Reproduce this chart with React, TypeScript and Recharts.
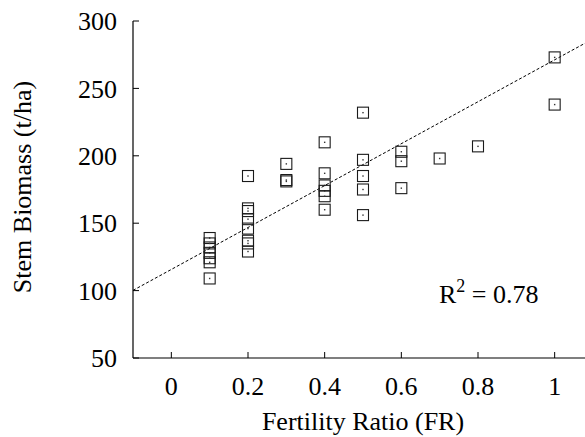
import React from 'react';
import { ScatterChart, Scatter, XAxis, YAxis } from 'recharts';

// Fertility ratio (x) values and stem biomass (t/ha) observations
const fr01 = [139, 135, 132, 128, 124, 121, 109];
const fr02 = [185, 161, 159, 153, 146, 137, 135, 129];
const fr03 = [194, 182, 181];
const fr04 = [210, 187, 178, 174, 170, 160];
const fr05 = [232, 197, 185, 175, 156];
const fr06 = [203, 196, 176];
const fr07 = [198];
const fr08 = [207];
const fr10 = [273, 238];

const groups: [number, number[]][] = [
  [0.1, fr01], [0.2, fr02], [0.3, fr03], [0.4, fr04], [0.5, fr05],
  [0.6, fr06], [0.7, fr07], [0.8, fr08], [1.0, fr10],
];

// linear fit y = a + b x
const fitIntercept = 115.7;
const fitSlope = 155.5;
const xDomain: [number, number] = [-0.1, 1.1];
const yDomain: [number, number] = [50, 300];
const xTicks = [0, 0.2, 0.4, 0.6, 0.8, 1];
const yTicks = [50, 100, 150, 200, 250, 300];
const r2Text = '0.78';

const points = groups.flatMap(([x, vals]) => vals.map((y) => ({ x, y })));
const fitLine = xDomain.map((x) => ({ x, y: fitIntercept + fitSlope * x }));

const FONT = '"Liberation Serif", "Times New Roman", serif';
const FS = 26;

const Square = (props: any) => {
  const { cx, cy } = props;
  if (cx == null || cy == null) return <g />;
  const s = 11;
  return (
    <g>
      <rect x={cx - s / 2} y={cy - s / 2} width={s} height={s} fill="none" stroke="#1a1a1a" strokeWidth={1.1} />
      <rect x={cx - 0.7} y={cy - 0.7} width={1.4} height={1.4} fill="#333" />
    </g>
  );
};

const YTick = (props: any) => {
  const { x, y, payload } = props;
  const ax = x + 16;
  return (
    <g>
      <line x1={ax} x2={ax + 6} y1={y} y2={y} stroke="#000" strokeWidth={1} />
      <text x={x} y={y} dy="0.35em" textAnchor="end" fontFamily={FONT} fontSize={FS} fill="#000">
        {payload.value}
      </text>
    </g>
  );
};

const XTick = (props: any) => {
  const { x, y, payload } = props;
  return (
    <g>
      <line x1={x} x2={x} y1={y} y2={y - 6} stroke="#000" strokeWidth={1} />
      <text x={x} y={y + 37} textAnchor="middle" fontFamily={FONT} fontSize={FS} fill="#000">
        {payload.value}
      </text>
    </g>
  );
};

const TopTick = (props: any) => {
  const { x, y } = props;
  return <line x1={x} x2={x} y1={y} y2={y + 6} stroke="#000" strokeWidth={1} />;
};

export default function App() {
  return (
    <div style={{ position: 'absolute', left: 0, top: 0, width: 585, height: 437, overflow: 'hidden', background: '#fff' }}>
      <ScatterChart width={600} height={437} margin={{ top: 21, right: 7, bottom: 0, left: 0 }}>
        <XAxis
          type="number"
          dataKey="x"
          domain={xDomain}
          ticks={xTicks}
          allowDataOverflow
          height={79}
          tickSize={0}
          tickMargin={0}
          tick={<XTick />}
          axisLine={{ stroke: '#000', strokeWidth: 1.2 }}
          tickLine={false}
          label={{ value: 'Fertility Ratio (FR)', position: 'insideBottom', offset: 7, fontFamily: FONT, fontSize: FS, fill: '#000' }}
        />
        <XAxis
          xAxisId="top"
          orientation="top"
          type="number"
          dataKey="x"
          domain={xDomain}
          ticks={xTicks}
          allowDataOverflow
          height={0}
          tickSize={0}
          tickMargin={0}
          tick={<TopTick />}
          axisLine={{ stroke: '#000', strokeWidth: 1.2 }}
          tickLine={false}
        />
        <YAxis
          type="number"
          dataKey="y"
          domain={yDomain}
          ticks={yTicks}
          allowDataOverflow
          width={133}
          tickSize={0}
          tickMargin={16}
          tick={<YTick />}
          axisLine={{ stroke: '#000', strokeWidth: 1.2 }}
          tickLine={false}
        />
        <Scatter
          data={fitLine}
          line={{ stroke: '#000', strokeWidth: 1, strokeDasharray: '3 2' }}
          shape={() => <g />}
          isAnimationActive={false}
        />
        <Scatter data={points} shape={<Square />} isAnimationActive={false} />
        <text transform="translate(31,187) rotate(-90)" textAnchor="middle" fontFamily={FONT} fontSize={FS} fill="#000">
          Stem Biomass (t/ha)
        </text>
        <text x={439} y={303} fontFamily={FONT} fontSize={FS} fill="#000">
          R<tspan dy={-11} fontSize={18}>2</tspan><tspan dy={11}> = {r2Text}</tspan>
        </text>
      </ScatterChart>
    </div>
  );
}
